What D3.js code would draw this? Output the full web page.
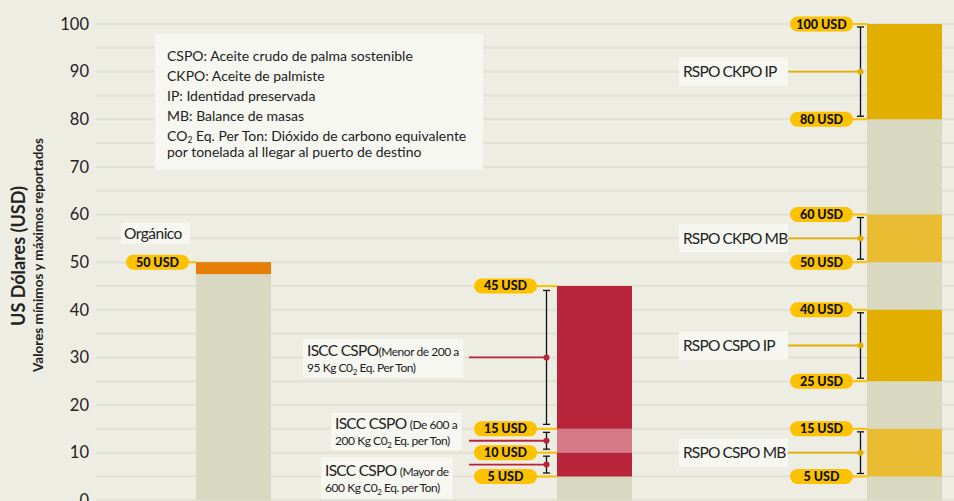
<!DOCTYPE html>
<html><head><meta charset="utf-8">
<script src="https://cdn.jsdelivr.net/npm/d3@7"></script>
<style>
html,body{margin:0;padding:0;background:#eeede3;}
svg{display:block;font-family:Lato,"Noto Sans",sans-serif;}
</style></head>
<body><svg id="c" width="954" height="501"></svg>
<script>
// ---------- DATA ----------
const categories = ["Orgánico", "ISCC CSPO", "RSPO"];
const barTotals = [50, 45, 100];               // grey column height per category
const organicBands = [{lo: 47.5, hi: 50, kind: "orange"}];
const isccBands = [
  {lo: 15, hi: 45, kind: "red"},
  {lo: 10, hi: 15, kind: "pink"},
  {lo: 5,  hi: 10, kind: "red"}
];
const rspoBands = [
  {lo: 80, hi: 100, kind: "goldDark", label: "RSPO CKPO IP"},
  {lo: 50, hi: 60,  kind: "goldLight", label: "RSPO CKPO MB"},
  {lo: 25, hi: 40,  kind: "goldDark", label: "RSPO CSPO IP"},
  {lo: 5,  hi: 15,  kind: "goldLight", label: "RSPO CSPO MB"}
];
const isccRanges = [
  {lo: 15, hi: 45, main: "ISCC CSPO", sub1: "(Menor de 200 a", sub2a: "95 Kg C0", sub2b: " Eq. Per Ton)"},
  {lo: 10, hi: 15, main: "ISCC CSPO ", sub1: "(De 600 a", sub2a: "200 Kg C0", sub2b: " Eq. per Ton)"},
  {lo: 5,  hi: 10, main: "ISCC CSPO ", sub1: "(Mayor de", sub2a: "600 Kg C0", sub2b: " Eq. per Ton)"}
];
const organicPills = [50];
const isccPills = [45, 15, 10, 5];
const rspoPills = [100, 80, 60, 50, 40, 25, 15, 5];
const yTicks = [0, 10, 20, 30, 40, 50, 60, 70, 80, 90, 100];
const legendLines = [
  ["CSPO: Aceite crudo de palma sostenible"],
  ["CKPO: Aceite de palmiste"],
  ["IP: Identidad preservada"],
  ["MB: Balance de masas"],
  ["CO", "2", " Eq. Per Ton: Dióxido de carbono equivalente"],
  ["por tonelada al llegar al puerto de destino"]
];
const yTitle = "US Dólares (USD)";
const ySubTitle = "Valores mínimos y máximos reportados";

// ---------- LAYOUT ----------
const colors = {
  bg: "#eeede3", grid: "#e1e0d2", bar: "#d9d8c1", orange: "#e67e07",
  red: "#b8243a", pink: "#d67a87", goldDark: "#e2ae00", goldLight: "#e9bc34",
  pill: "#fcc200", box: "#f7f7f1", text: "#222"
};
const svg = d3.select("#c");
const y = d3.scaleLinear().domain([0, 100]).range([500.3, 24]);
const x = d3.scaleOrdinal().domain(categories).range([196, 557, 867]);
const barW = 75;
const gridLeft = 96;

// grid
svg.append("g").selectAll("line").data(d3.range(0, 101, 5)).join("line")
  .attr("x1", gridLeft).attr("x2", 954)
  .attr("y1", d => y(d)).attr("y2", d => y(d))
  .attr("stroke", colors.grid).attr("stroke-width", 2);

// axis
const ax = svg.append("g").attr("transform", `translate(${gridLeft},0)`)
  .call(d3.axisLeft(y).tickValues(yTicks).tickSize(0).tickPadding(7).tickFormat(d3.format("d")));
ax.select(".domain").remove();
ax.selectAll("text").attr("font-family", "Lato").attr("font-size", 16.5).attr("fill", colors.text);

// axis titles
svg.append("text").attr("transform", "translate(25,256) rotate(-90)")
  .attr("text-anchor", "middle").attr("font-weight", 700).attr("font-size", 18)
  .attr("fill", colors.text).text(yTitle);
svg.append("text").attr("transform", "translate(43,255) rotate(-90)")
  .attr("text-anchor", "middle").attr("font-weight", 700).attr("font-size", 13.5)
  .attr("fill", colors.text).text(ySubTitle);

// legend
svg.append("rect").attr("x", 155).attr("y", 34).attr("width", 328).attr("height", 136).attr("fill", colors.box);
const lgY = [61, 81, 101, 120.5, 140.5, 157];
legendLines.forEach((parts, i) => {
  const t = svg.append("text").attr("x", 167).attr("y", lgY[i]).attr("font-size", 14).attr("fill", colors.text);
  if (parts.length === 1) t.text(parts[0]);
  else {
    t.append("tspan").text(parts[0]);
    t.append("tspan").attr("font-size", 8.5).attr("dy", 2.5).text(parts[1]);
    t.append("tspan").attr("dy", -2.5).text(parts[2]);
  }
});

// grey columns
svg.append("g").selectAll("rect").data(categories).join("rect")
  .attr("x", d => x(d)).attr("width", barW)
  .attr("y", (d, i) => y(barTotals[i])).attr("height", (d, i) => y(0) - y(barTotals[i]))
  .attr("fill", colors.bar);

// coloured bands
function bands(cat, data) {
  svg.append("g").selectAll("rect").data(data).join("rect")
    .attr("x", x(cat)).attr("width", barW)
    .attr("y", d => y(d.hi)).attr("height", d => y(d.lo) - y(d.hi))
    .attr("fill", d => colors[d.kind]);
}
bands(categories[0], organicBands);
bands(categories[1], isccBands);
bands(categories[2], rspoBands);

// pills
const pillW = 63, pillH = 15;
function pills(cat, vals, gap) {
  const right = x(cat) - gap;
  const g = svg.append("g").selectAll("g").data(vals).join("g");
  g.append("line").attr("x1", right - 4).attr("x2", x(cat))
    .attr("y1", d => y(d)).attr("y2", d => y(d)).attr("stroke", colors.pill).attr("stroke-width", 2);
  g.append("rect").attr("x", right - pillW).attr("width", pillW).attr("height", pillH)
    .attr("y", d => y(d) - pillH / 2).attr("rx", pillH / 2).attr("fill", colors.pill);
  g.append("text").attr("x", right - pillW / 2).attr("y", d => y(d) + 4.5)
    .attr("text-anchor", "middle").attr("font-weight", 900).attr("font-size", 12.5)
    .attr("fill", "#111").text(d => `${d} USD`);
}

// error bars with dots and leader lines
function errBar(ex, lo, hi, inset, lineX0, col) {
  const g = svg.append("g");
  const y1 = y(hi) + inset, y2 = y(lo) - inset;
  g.append("line").attr("x1", ex).attr("x2", ex).attr("y1", y1).attr("y2", y2).attr("stroke", "#111").attr("stroke-width", 1.3);
  [y1, y2].forEach(v => g.append("line").attr("x1", ex - 3.5).attr("x2", ex + 3.5).attr("y1", v).attr("y2", v).attr("stroke", "#111").attr("stroke-width", 1.3));
  const my = y((lo + hi) / 2);
  g.append("line").attr("x1", lineX0).attr("x2", ex).attr("y1", my).attr("y2", my).attr("stroke", col).attr("stroke-width", 1.8);
  g.append("circle").attr("cx", ex).attr("cy", my).attr("r", 3).attr("fill", col);
}

// ISCC
const isccX = x(categories[1]);
const isccBoxes = [{left: 303, topOff: -18.5, h: 39}, {left: 331, topOff: -28, h: 37.5}, {left: 321, topOff: -7, h: 41.5}];
isccRanges.forEach((r, i) => {
  errBar(isccX - 10.5, r.lo, r.hi, i === 0 ? 4.5 : 3.5, 469, colors.red);
});
isccRanges.forEach((r, i) => {
  const b = isccBoxes[i];
  const my = y((r.lo + r.hi) / 2);
  const top = my + b.topOff;
  const g = svg.append("g");
  const rect = g.append("rect").attr("x", b.left).attr("y", top).attr("height", b.h).attr("fill", colors.box);
  const t1 = g.append("text").attr("x", b.left + 4).attr("y", top + b.h / 2 - 2.5).attr("fill", colors.text);
  t1.append("tspan").attr("font-size", 15.5).attr("letter-spacing", -0.7).text(r.main);
  t1.append("tspan").attr("font-size", 12).attr("letter-spacing", -0.45).text(r.sub1);
  const t2 = g.append("text").attr("x", b.left + 4).attr("y", top + b.h / 2 + 13.5).attr("font-size", 12)
    .attr("letter-spacing", -0.45).attr("fill", colors.text);
  t2.append("tspan").text(r.sub2a);
  t2.append("tspan").attr("font-size", 8).attr("dy", 3).text("2");
  t2.append("tspan").attr("dy", -3).text(r.sub2b);
  const w = Math.max(t1.node().getBBox().width, t2.node().getBBox().width);
  rect.attr("width", w + 8);
});
pills(categories[1], isccPills, 20);

// RSPO
const rspoX = x(categories[2]);
rspoBands.forEach(b => {
  errBar(rspoX - 6.5, b.lo, b.hi, 3, 788, colors.goldDark);
  const my = y((b.lo + b.hi) / 2);
  svg.append("rect").attr("x", 679).attr("y", my - 14).attr("width", 109).attr("height", 28).attr("fill", colors.box);
  svg.append("text").attr("x", 683).attr("y", my + 5.5).attr("font-size", 15.5).attr("letter-spacing", -0.85)
    .attr("fill", colors.text).text(b.label);
});
pills(categories[2], rspoPills, 14);

// Organic
const orgX = x(categories[0]);
svg.append("rect").attr("x", 121).attr("y", 222.5).attr("width", 69).attr("height", 21.5).attr("fill", colors.box);
svg.append("text").attr("x", 124).attr("y", 238.5).attr("font-size", 15.5).attr("letter-spacing", -0.5)
  .attr("fill", colors.text).text(categories[0]);
pills(categories[0], organicPills, 7);
</script></body></html>
